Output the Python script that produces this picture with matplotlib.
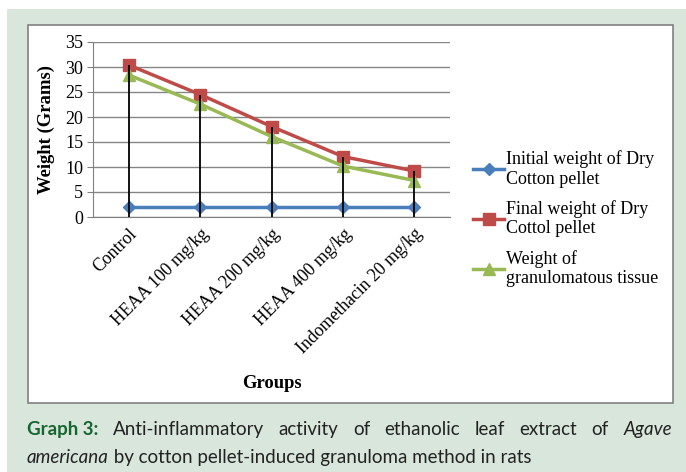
import matplotlib.pyplot as plt
from matplotlib.patches import Rectangle

groups = ["Control", "HEAA 100 mg/kg", "HEAA 200 mg/kg", "HEAA 400 mg/kg",
          "Indomethacin 20 mg/kg"]
initial_weight = [2.0, 2.0, 2.0, 2.0, 2.0]
final_weight = [30.4, 24.5, 18.1, 12.1, 9.2]
granuloma_weight = [28.4, 22.6, 16.1, 10.2, 7.3]
series_labels = ["Initial weight of Dry\nCotton pellet",
                 "Final weight of Dry\nCottol pellet",
                 "Weight of\ngranulomatous tissue"]
yticks = [0, 5, 10, 15, 20, 25, 30, 35]

caption_line1 = [("Graph 3:", "bold"), ("Anti-inflammatory", "normal"), ("activity", "normal"),
                 ("of", "normal"), ("ethanolic", "normal"), ("leaf", "normal"),
                 ("extract", "normal"), ("of", "normal"), ("Agave", "italic")]
caption_line2 = [("americana", "italic"), (" by cotton pellet-induced granuloma method in rats", "normal")]

SERIF = "Liberation Serif"
CAP_FONT = ["Lato", "DejaVu Sans"]
BG = "#d9e6dc"
CAP_GREEN = "#17662f"

fig = plt.figure(figsize=(6.86, 4.72), dpi=100)
W, H = 686, 472


def fx(px):
    return px / W


def fy(py):
    return 1 - py / H


# background and white panel
fig.patches.append(Rectangle((fx(7), 0), 1 - fx(7), fy(9), transform=fig.transFigure,
                             facecolor=BG, edgecolor="none", zorder=0))
fig.patches.append(Rectangle((fx(28), fy(403)), fx(673) - fx(28), fy(25) - fy(403),
                             transform=fig.transFigure, facecolor="white",
                             edgecolor="#808080", linewidth=1.2, zorder=1))

ax = fig.add_axes([fx(93), fy(217), fx(450) - fx(93), fy(42) - fy(217)])
ax.set_zorder(2)
ax.patch.set_alpha(0)
x = list(range(len(groups)))

ax.vlines(x, 0, [max(a, b) for a, b in zip(final_weight, granuloma_weight)],
          colors="black", linewidth=1.3, zorder=3)
ax.plot(x, initial_weight, color="#4a7ebb", linewidth=2.5, marker="D", markersize=6,
        label=series_labels[0], zorder=2)
ax.plot(x, final_weight, color="#be4b48", linewidth=2.5, marker="s", markersize=9,
        label=series_labels[1], zorder=2)
ax.plot(x, granuloma_weight, color="#98b954", linewidth=2.5, marker="^", markersize=9,
        label=series_labels[2], zorder=2)

ax.set_xlim(-0.5, len(groups) - 0.5)
ax.set_ylim(0, 35)
ax.set_yticks(yticks)
ax.set_yticklabels([str(t) for t in yticks], fontfamily=SERIF, fontsize=13)
ax.set_xticks(x)
ax.set_xticklabels(groups, rotation=45, ha="right", rotation_mode="anchor",
                   fontfamily=SERIF, fontsize=12.8)
ax.tick_params(axis="x", length=0, pad=6)
ax.tick_params(axis="y", length=4, color="#808080", pad=3)
ax.grid(axis="y", color="#868686", linewidth=1)
ax.set_axisbelow(True)
for side in ["top", "right"]:
    ax.spines[side].set_visible(False)
ax.spines["left"].set_color("#808080")
ax.spines["bottom"].set_color("#808080")

fig.text(fx(46), fy(129), "Weight (Grams)", rotation=90, ha="center", va="center",
         fontfamily=SERIF, fontsize=13.4, fontweight="bold")
fig.text(fx(272), fy(383), "Groups", ha="center", va="center",
         fontfamily=SERIF, fontsize=13.4, fontweight="bold")

ax.legend(loc="upper left", bbox_to_anchor=(fx(466), fy(143)), bbox_transform=fig.transFigure,
          frameon=False, prop={"family": SERIF, "size": 13}, handlelength=1.7,
          handletextpad=0.1, labelspacing=0.68, borderaxespad=0)

# caption, line 1 justified across the width
renderer = fig.canvas.get_renderer()
left, right = 27, 672


def make_text(s, style, xpos, ypos):
    kw = dict(fontfamily=CAP_FONT, fontsize=13.5, va="baseline", ha="left", color="#222222")
    if style == "bold":
        kw.update(fontweight="bold", color=CAP_GREEN)
    elif style == "italic":
        kw.update(fontstyle="italic")
    return fig.text(fx(xpos), fy(ypos), s, **kw)


texts = [make_text(s, st, 0, 435) for s, st in caption_line1]
widths = [t.get_window_extent(renderer).width for t in texts]
gap = (right - left - sum(widths)) / (len(texts) - 1)
xpos = left
for t, w in zip(texts, widths):
    t.set_x(fx(xpos))
    xpos += w + gap

xpos = left
for s, st in caption_line2:
    t = make_text(s, st, xpos, 463)
    xpos += t.get_window_extent(renderer).width

fig.savefig("out.png", dpi=100)
